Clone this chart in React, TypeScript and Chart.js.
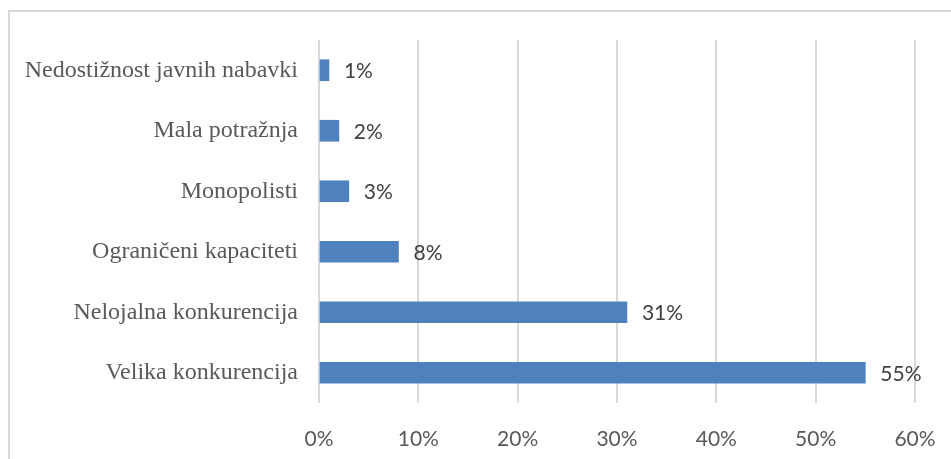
import React, { useEffect, useRef } from "react";
import { Chart, registerables } from "chart.js";

Chart.register(...registerables);

const categories: string[] = [
  "Nedostižnost javnih nabavki",
  "Mala potražnja",
  "Monopolisti",
  "Ograničeni kapaciteti",
  "Nelojalna konkurencija",
  "Velika konkurencija",
];
const values: number[] = [1, 2, 3, 8, 31, 55];
const xTicks: number[] = [0, 10, 20, 30, 40, 50, 60];

const W = 951;
const H = 459;

const framePlugin = {
  id: "frame",
  beforeDraw(chart: any) {
    const ctx = chart.ctx;
    ctx.save();
    ctx.strokeStyle = "#d9d9d9";
    ctx.lineWidth = 2;
    ctx.beginPath();
    ctx.moveTo(9, H);
    ctx.lineTo(9, 11);
    ctx.lineTo(W, 11);
    ctx.stroke();
    ctx.restore();
  },
};

const labelPlugin = {
  id: "barLabels",
  afterDatasetsDraw(chart: any) {
    const ctx = chart.ctx;
    const meta = chart.getDatasetMeta(0);
    ctx.save();
    ctx.fillStyle = "#404040";
    ctx.font = "21px Lato";
    ctx.textAlign = "left";
    ctx.textBaseline = "middle";
    meta.data.forEach((el: any, i: number) => {
      ctx.fillText(values[i] + "%", el.x + 15, el.y + 1);
    });
    ctx.restore();
  },
};

export default function App() {
  const ref = useRef<HTMLCanvasElement | null>(null);

  useEffect(() => {
    if (!ref.current) return;
    const chart = new Chart(ref.current, {
      type: "bar",
      data: {
        labels: categories,
        datasets: [
          {
            data: values,
            backgroundColor: "#4f81bd",
            borderWidth: 0,
            barThickness: 21,
          },
        ],
      },
      options: {
        indexAxis: "y",
        animation: false,
        responsive: false,
        maintainAspectRatio: false,
        layout: { padding: { top: 40, right: 36, left: 0, bottom: 0 } },
        plugins: {
          legend: { display: false },
          tooltip: { enabled: false },
        },
        scales: {
          x: {
            min: 0,
            max: 60,
            afterBuildTicks: (s: any) => {
              s.ticks = xTicks.map((v) => ({ value: v }));
            },
            afterFit: (s: any) => {
              s.height = 56;
              s.paddingLeft = 0;
              s.paddingRight = 0;
            },
            grid: { color: "#d9d9d9", lineWidth: 2, drawTicks: false },
            border: { display: false },
            ticks: {
              padding: 24,
              color: "#595959",
              font: { family: "Lato", size: 21 },
              callback: (v: any) => v + "%",
            },
          },
          y: {
            afterFit: (s: any) => {
              s.width = 319;
              s.paddingTop = 0;
              s.paddingBottom = 0;
            },
            grid: { display: false, drawTicks: false },
            border: { display: false },
            ticks: {
              padding: 21,
              color: "#595959",
              font: { family: "Liberation Serif", size: 24 },
            },
          },
        },
      },
      plugins: [framePlugin, labelPlugin],
    });
    return () => chart.destroy();
  }, []);

  return (
    <div style={{ position: "fixed", left: 0, top: 0, width: W, height: H, background: "#fff" }}>
      <canvas ref={ref} width={W} height={H} style={{ display: "block" }} />
    </div>
  );
}
